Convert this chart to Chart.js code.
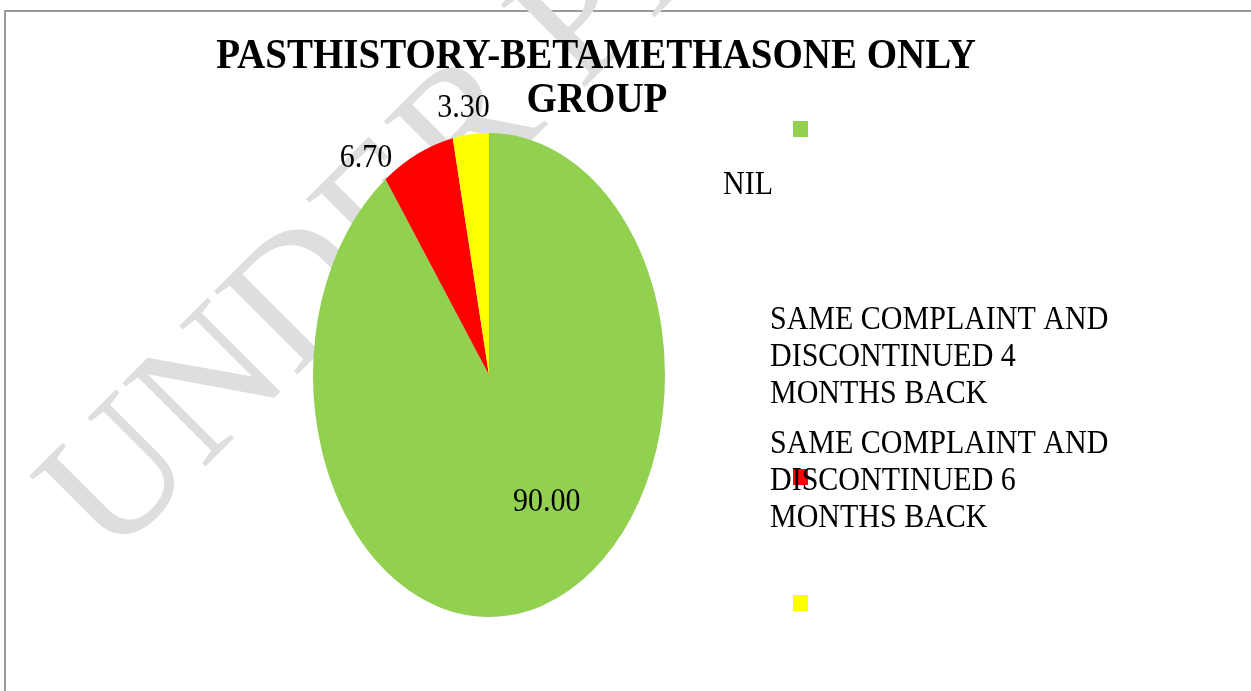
<!DOCTYPE html>
<html>
<head>
<meta charset="utf-8">
<title>Past history - Betamethasone only group</title>
<script src="https://cdn.jsdelivr.net/npm/chart.js@4.4.1/dist/chart.umd.min.js"></script>
<style>
  html, body { margin: 0; padding: 0; background: #fff; }
  canvas { display: block; }
</style>
</head>
<body>
<canvas id="pastHistoryChart" width="1251" height="691"></canvas>
<script>
  // Past history, betamethasone only group (percent of patients)
  const categories = ['NIL', 'SAME COMPLAINT AND DISCONTINUED 4 MONTHS BACK', 'SAME COMPLAINT AND DISCONTINUED 6 MONTHS BACK'];
  const percentages = [90.00, 6.70, 3.30];
  const sliceColors = ['#92D050', '#FF0000', '#FFFF00'];
  const titleLines = ['PASTHISTORY-BETAMETHASONE ONLY', 'GROUP'];
  const watermark = 'UNDER PEER REVIEW';

  const serif = '"Liberation Serif", "Times New Roman", serif';
  const stretchY = 1.375; // the pie in the original is a tall ellipse
  const textStretch = 1.1; // text in the original is a little taller than normal

  // text drawn slightly stretched upward from its baseline
  function tallText(ctx, text, x, y, sy) {
    ctx.save();
    ctx.translate(x, y);
    ctx.scale(1, sy);
    ctx.fillText(text, 0, 0);
    ctx.restore();
  }

  // split a label into lines no wider than maxWidth
  function wrapText(ctx, text, maxWidth) {
    const words = text.split(' ');
    const lines = [];
    let line = '';
    words.forEach(w => {
      const test = line ? line + ' ' + w : w;
      if (ctx.measureText(test).width > maxWidth && line) {
        lines.push(line);
        line = w;
      } else {
        line = test;
      }
    });
    if (line) lines.push(line);
    return lines;
  }

  // frame, watermark and title go under the pie
  const backdrop = {
    id: 'backdrop',
    beforeDraw(chart) {
      const ctx = chart.ctx;
      ctx.save();
      ctx.fillStyle = '#999999';
      ctx.fillRect(4, 10, chart.width - 4, 2);
      ctx.fillRect(4, 10, 2, chart.height - 10);

      ctx.translate(110, 562);
      ctx.rotate(-45 * Math.PI / 180);
      ctx.font = '180px ' + serif;
      ctx.fillStyle = '#dedede';
      ctx.fillText(watermark, 0, 0);
      ctx.restore();

      ctx.save();
      ctx.font = 'bold 39px ' + serif;
      ctx.fillStyle = '#000';
      ctx.textAlign = 'center';
      tallText(ctx, titleLines[0], 596, 68, 1.08);
      tallText(ctx, titleLines[1], 597, 112, 1.08);
      ctx.restore();
    }
  };

  // squash the circle into an ellipse around the pie centre
  const ellipse = {
    id: 'ellipse',
    beforeDatasetsDraw(chart) {
      const arc = chart.getDatasetMeta(0).data[0];
      const ctx = chart.ctx;
      ctx.save();
      ctx.translate(arc.x, arc.y);
      ctx.scale(1, stretchY);
      ctx.translate(-arc.x, -arc.y);
    },
    afterDatasetsDraw(chart) {
      chart.ctx.restore();
    }
  };

  // value labels, placed from each arc's mid angle
  const radiusFactor = [0.6, 1.12, 1.12];
  const nudge = [[25, -14], [-43, 28], [-5, 0]];
  const valueLabels = {
    id: 'valueLabels',
    afterDatasetsDraw(chart) {
      const ctx = chart.ctx;
      ctx.save();
      ctx.font = '30px ' + serif;
      ctx.fillStyle = '#000';
      ctx.textAlign = 'center';
      ctx.textBaseline = 'alphabetic';
      chart.getDatasetMeta(0).data.forEach((arc, i) => {
        const p = arc.getProps(['x', 'y', 'startAngle', 'endAngle', 'outerRadius'], true);
        const mid = (p.startAngle + p.endAngle) / 2;
        const r = p.outerRadius * radiusFactor[i];
        const x = p.x + Math.cos(mid) * r + nudge[i][0];
        const y = p.y + Math.sin(mid) * r * stretchY + nudge[i][1];
        tallText(ctx, percentages[i].toFixed(2), x, y + 12, textStretch);
      });
      ctx.restore();
    }
  };

  // legend as laid out in the original (markers and text drift apart)
  const markerY = [121, 469, 595];
  const textPos = [[723, 194], [770, 329], [770, 453]];
  const sideLegend = {
    id: 'sideLegend',
    afterDraw(chart) {
      const ctx = chart.ctx;
      ctx.save();
      categories.forEach((c, i) => {
        ctx.fillStyle = sliceColors[i];
        ctx.fillRect(793, markerY[i], 15, 16);
      });
      ctx.font = '30px ' + serif;
      ctx.fillStyle = '#000';
      categories.forEach((c, i) => {
        wrapText(ctx, c, 350).forEach((line, k) => {
          tallText(ctx, line, textPos[i][0], textPos[i][1] + k * 37, textStretch);
        });
      });
      ctx.restore();
    }
  };

  const ctx = document.getElementById('pastHistoryChart').getContext('2d');
  new Chart(ctx, {
    type: 'pie',
    data: {
      labels: categories,
      datasets: [{
        data: percentages,
        backgroundColor: sliceColors,
        borderWidth: 0,
        clip: false
      }]
    },
    options: {
      responsive: false,
      animation: false,
      layout: { padding: { left: 313, right: 586, top: 199, bottom: 140 } },
      plugins: {
        legend: { display: false },
        title: { display: false },
        tooltip: { enabled: false }
      }
    },
    plugins: [backdrop, ellipse, valueLabels, sideLegend]
  });
</script>
</body>
</html>
